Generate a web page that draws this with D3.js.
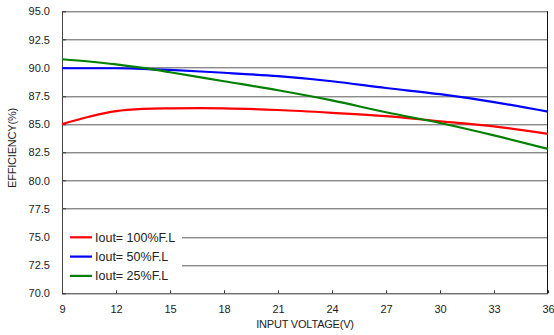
<!DOCTYPE html>
<html>
<head>
<meta charset="utf-8">
<script src="https://cdn.jsdelivr.net/npm/d3@7"></script>
<style>
  body { margin: 0; background: #fff; }
  text { font-family: "Liberation Sans", Arial, sans-serif; fill: #222; }
</style>
</head>
<body>
<div id="chart"></div>
<script>
// values
let voltage = [9, 10.5, 12, 13.5, 15, 18, 21, 24, 27, 30, 33, 36];
let eff100 = [85.0, 85.65, 86.15, 86.35, 86.4, 86.4, 86.25, 86.0, 85.7, 85.25, 84.8, 84.13];
let eff50 = [89.95, 89.95, 89.95, 89.9, 89.8, 89.55, 89.25, 88.8, 88.2, 87.65, 86.95, 86.1];
let eff25 = [90.75, 90.55, 90.3, 89.98, 89.6, 88.8, 88.0, 87.1, 86.05, 85.1, 84.0, 82.8];

let seriesNames = ["Iout= 100%F.L", "Iout= 50%F.L", "Iout= 25%F.L"];
let seriesColors = ["#ff0000", "#0000ff", "#008000"];
let xTicks = [9, 12, 15, 18, 21, 24, 27, 30, 33, 36];
let yTicks = [70, 72.5, 75, 77.5, 80, 82.5, 85, 87.5, 90, 92.5, 95];

let width = 554, height = 335;
let margin = {top: 11.3, right: 6, bottom: 41.7, left: 62};
let w = width - margin.left - margin.right;
let h = height - margin.top - margin.bottom;

let svg = d3.select("#chart").append("svg")
  .attr("width", width)
  .attr("height", height);

let g = svg.append("g")
  .attr("transform", `translate(${margin.left},${margin.top})`);

let x = d3.scaleLinear().domain([9, 36]).range([0, w]);
let y = d3.scaleLinear().domain([70, 95]).range([h, 0]);

// horizontal grid lines
g.selectAll("line.grid")
  .data(yTicks.slice(1))
  .enter()
  .append("line")
    .attr("class", "grid")
    .attr("x1", 0).attr("x2", w)
    .attr("y1", d => Math.round(y(d)) + 0.5)
    .attr("y2", d => Math.round(y(d)) + 0.5)
    .attr("stroke", "#5a5a5a")
    .attr("stroke-width", 1);

// y axis, ticks pointing into the plot
let axeY = d3.axisLeft(y).tickValues(yTicks).tickFormat(d3.format(".1f")).tickSize(0).tickPadding(12);
let gy = g.append("g").call(axeY);
gy.select(".domain").remove();
gy.selectAll("text").style("font-size", "11px").attr("fill", "#222");
g.selectAll("line.yt")
  .data(yTicks)
  .enter()
  .append("line")
    .attr("x1", 0).attr("x2", 4)
    .attr("y1", d => Math.round(y(d)) + 0.5)
    .attr("y2", d => Math.round(y(d)) + 0.5)
    .attr("stroke", "#333");

// x axis, ticks pointing up
let axeX = d3.axisBottom(x).tickValues(xTicks).tickSize(0).tickPadding(12);
let gx = g.append("g").attr("transform", `translate(0,${h})`).call(axeX);
gx.select(".domain").remove();
gx.selectAll("text").style("font-size", "11px").attr("fill", "#222");
g.selectAll("line.xt")
  .data(xTicks)
  .enter()
  .append("line")
    .attr("x1", d => Math.round(x(d)) + 0.5)
    .attr("x2", d => Math.round(x(d)) + 0.5)
    .attr("y1", h).attr("y2", h - 3)
    .attr("stroke", "#333");

// frame
g.append("line").attr("x1", 0.5).attr("x2", 0.5).attr("y1", 0).attr("y2", h).attr("stroke", "#444");
g.append("line").attr("x1", 0).attr("x2", w).attr("y1", Math.round(h) + 0.5).attr("y2", Math.round(h) + 0.5).attr("stroke", "#333");
g.append("line").attr("x1", w - 0.5).attr("x2", w - 0.5).attr("y1", 0).attr("y2", h).attr("stroke", "#111");

// curves
let series = [eff100, eff50, eff25];
let line = d3.line()
  .x((d, i) => x(voltage[i]))
  .y(d => y(d))
  .curve(d3.curveCatmullRom);

g.selectAll("path.curve")
  .data(series)
  .enter()
  .append("path")
    .attr("class", "curve")
    .attr("d", line)
    .attr("fill", "none")
    .attr("stroke", (d, i) => seriesColors[i])
    .attr("stroke-width", 2.2);

// legend
let legend = g.append("g");
legend.append("rect")
  .attr("x", 1).attr("y", 216).attr("width", 119).attr("height", 62)
  .attr("fill", "#fff");
seriesNames.forEach((name, i) => {
  let ly = 226 + i * 19.3;
  legend.append("line")
    .attr("x1", 8).attr("x2", 30)
    .attr("y1", ly).attr("y2", ly)
    .attr("stroke", seriesColors[i])
    .attr("stroke-width", 2.2);
  legend.append("text")
    .attr("x", 33).attr("y", ly + 4.5)
    .style("font-size", "12.5px")
    .text(name);
});

// axis titles
svg.append("text")
  .attr("x", margin.left + w / 2)
  .attr("y", 328)
  .attr("text-anchor", "middle")
  .style("font-size", "11px")
  .style("letter-spacing", "-0.2px")
  .text("INPUT VOLTAGE(V)");

svg.append("text")
  .attr("transform", "translate(16,148) rotate(-90)")
  .attr("text-anchor", "middle")
  .style("font-size", "11px")
  .style("letter-spacing", "-0.2px")
  .text("EFFICIENCY(%)");
</script>
</body>
</html>
